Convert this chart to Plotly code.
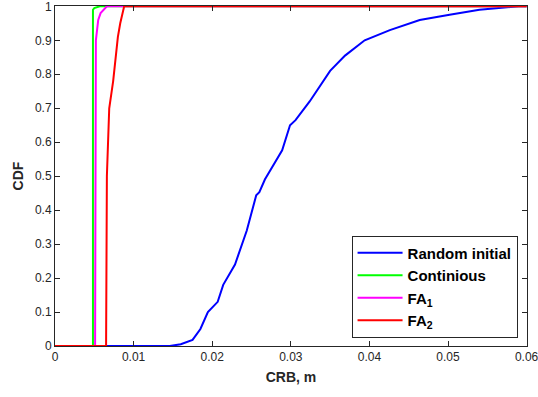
import plotly.graph_objects as go

# Data
rand_x = [0.0, 0.0146, 0.0160, 0.0175, 0.0185, 0.01945, 0.0207, 0.0214, 0.0229, 0.0244, 0.0256, 0.0260, 0.0267,
          0.0289, 0.0299, 0.0306, 0.0324, 0.0350, 0.0369, 0.0394, 0.0426, 0.0464, 0.0502, 0.0540, 0.0590, 0.0600]
rand_y = [0.0, 0.0, 0.005, 0.018, 0.05, 0.10, 0.13, 0.18, 0.24, 0.34, 0.444, 0.453, 0.49,
          0.576, 0.65, 0.665, 0.72, 0.81, 0.855, 0.90, 0.93, 0.96, 0.975, 0.99, 1.0, 1.0]

cont_x = [0.0, 0.00483, 0.00483, 0.0050, 0.0057, 0.0600]
cont_y = [0.0, 0.0, 0.99, 0.995, 1.0, 1.0]

fa1_x = [0.0, 0.0051, 0.0052, 0.0055, 0.0058, 0.0064, 0.0066, 0.0600]
fa1_y = [0.0, 0.0, 0.90, 0.96, 0.98, 0.995, 1.0, 1.0]

fa2_x = [0.0, 0.0065, 0.0066, 0.0069, 0.0074, 0.0080, 0.0083, 0.0088, 0.0600]
fa2_y = [0.0, 0.0, 0.50, 0.70, 0.78, 0.91, 0.95, 1.0, 1.0]

x_ticks = [0, 0.01, 0.02, 0.03, 0.04, 0.05, 0.06]
x_labels = ["0", "0.01", "0.02", "0.03", "0.04", "0.05", "0.06"]
y_ticks = [0, 0.1, 0.2, 0.3, 0.4, 0.5, 0.6, 0.7, 0.8, 0.9, 1.0]
y_labels = ["0", "0.1", "0.2", "0.3", "0.4", "0.5", "0.6", "0.7", "0.8", "0.9", "1"]

names = ["Random initial", "Continious", "FA<sub>1</sub>", "FA<sub>2</sub>"]
colors = ["#0000ff", "#00ff00", "#ff00ff", "#ff0000"]
xs = [rand_x, cont_x, fa1_x, fa2_x]
ys = [rand_y, cont_y, fa1_y, fa2_y]

fig = go.Figure()
for x, y, n, c in zip(xs, ys, names, colors):
    fig.add_trace(go.Scatter(x=x, y=y, mode="lines", name=n, line=dict(color=c, width=2), cliponaxis=False))

FONT = "Liberation Sans, Arial"
axis_common = dict(showline=True, linecolor="#262626", linewidth=1, mirror="ticks",
                   ticks="inside", ticklen=5, tickcolor="#262626", showgrid=False, zeroline=False,
                   ticklabeloverflow="allow", automargin=False,
                   tickfont=dict(family=FONT, size=12, color="#262626"))

fig.update_layout(
    width=538, height=397,
    margin=dict(l=55, r=11, t=6, b=51),
    paper_bgcolor="white", plot_bgcolor="white",
    xaxis=dict(range=[0, 0.06005], tickvals=x_ticks, ticktext=x_labels,
               title=dict(text="<b>CRB, m</b>", font=dict(family=FONT, size=14, color="#262626"), standoff=8),
               **axis_common),
    yaxis=dict(range=[0, 1.001], tickvals=y_ticks, ticktext=y_labels,
               title=dict(text="<b>CDF</b>", font=dict(family=FONT, size=14, color="#262626"), standoff=8),
               **axis_common),
    legend=dict(x=0.98, y=0.025, xanchor="right", yanchor="bottom",
                bgcolor="white", bordercolor="#262626", borderwidth=1,
                font=dict(family=FONT, size=15, color="black", weight="bold"),
                tracegroupgap=0, itemwidth=45, entrywidth=160),
    showlegend=True,
)

fig.write_html("out.html")
